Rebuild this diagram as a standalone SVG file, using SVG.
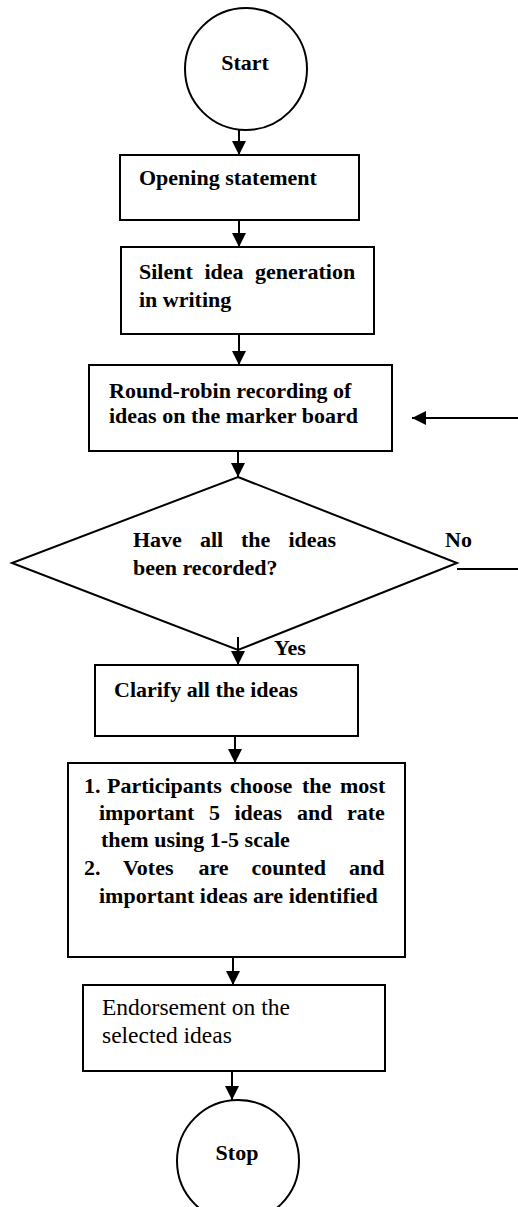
<svg xmlns="http://www.w3.org/2000/svg" width="518" height="1207" viewBox="0 0 518 1207">
<defs>
<marker id="ah" markerUnits="userSpaceOnUse" markerWidth="14" markerHeight="14" refX="14" refY="7" orient="auto">
<path d="M0,0 L14,7 L0,14 z" fill="#000"/>
</marker>
<style>
.sh{fill:#fff;stroke:#000;stroke-width:2}
.b{font-family:"Liberation Serif","Times New Roman",serif;font-weight:bold;font-size:22px;fill:#000}
.r{font-family:"Liberation Serif","Times New Roman",serif;font-size:23.5px;fill:#000}
.c{stroke:#000;stroke-width:2;fill:none}
.m{marker-end:url(#ah)}
</style>
</defs>
<rect width="518" height="1207" fill="#fff"/>
<g id="start"><ellipse class="sh" cx="246" cy="69" rx="61" ry="61"/><text class="b" x="245" y="70" text-anchor="middle">Start</text></g>
<g id="opening"><rect class="sh" x="120" y="155" width="239" height="65"/><text class="b" x="139" y="185">Opening statement</text></g>
<g id="silent"><rect class="sh" x="121" y="247" width="253" height="87"/>
<text class="b" y="279"><tspan x="139">Silent</tspan> <tspan x="204.5">idea</tspan> <tspan x="255">generation</tspan></text>
<text class="b" x="139" y="307">in writing</text></g>
<g id="roundrobin"><rect class="sh" x="89" y="365" width="303" height="86"/>
<text class="b" x="109" y="398">Round-robin recording of</text>
<text class="b" x="109" y="423">ideas on the marker board</text></g>
<g id="decision"><polygon class="sh" points="238,477 457,563 238,650 12,563"/>
<text class="b" y="547"><tspan x="133">Have</tspan> <tspan x="200">all</tspan> <tspan x="241">the</tspan> <tspan x="288.5">ideas</tspan></text>
<text class="b" x="133" y="575">been recorded?</text></g>
<g id="clarify"><rect class="sh" x="95" y="665" width="263" height="71"/><text class="b" x="114" y="697">Clarify all the ideas</text></g>
<g id="vote"><rect class="sh" x="68" y="763" width="337" height="194"/>
<text class="b" y="793"><tspan x="84">1.</tspan> <tspan x="107">Participants</tspan> <tspan x="230">choose</tspan> <tspan x="302">the</tspan> <tspan x="340">most</tspan></text>
<text class="b" y="820"><tspan x="99">important</tspan> <tspan x="209">5</tspan> <tspan x="234.5">ideas</tspan> <tspan x="297">and</tspan> <tspan x="347">rate</tspan></text>
<text class="b" x="101" y="847">them using 1-5 scale</text>
<text class="b" y="875"><tspan x="84">2.</tspan> <tspan x="123">Votes</tspan> <tspan x="198.5">are</tspan> <tspan x="251.5">counted</tspan> <tspan x="349">and</tspan></text>
<text class="b" x="99" y="903">important ideas are identified</text></g>
<g id="endorse"><rect class="sh" x="83" y="985" width="302" height="86"/>
<text class="r" x="102" y="1015">Endorsement on the</text>
<text class="r" x="102" y="1043">selected ideas</text></g>
<g id="stop"><ellipse class="sh" cx="238" cy="1161" rx="61" ry="61"/><text class="b" x="237" y="1160" text-anchor="middle">Stop</text></g>
<g id="connectors">
<line class="c m" x1="239" y1="130" x2="239" y2="155"/>
<line class="c m" x1="239" y1="220" x2="239" y2="247"/>
<line class="c m" x1="239" y1="334" x2="239" y2="365"/>
<line class="c m" x1="238" y1="451" x2="238" y2="477"/>
<line class="c m" x1="238" y1="637" x2="238" y2="665"/>
<line class="c m" x1="235" y1="736" x2="235" y2="763"/>
<line class="c m" x1="233" y1="957" x2="233" y2="985"/>
<line class="c m" x1="232" y1="1071" x2="232" y2="1100"/>
<line class="c m" x1="518" y1="418" x2="412" y2="418"/>
<line class="c" x1="457" y1="569" x2="518" y2="569"/>
<text class="b" x="445" y="547">No</text>
<text class="b" x="274" y="655">Yes</text>
</g>
</svg>
